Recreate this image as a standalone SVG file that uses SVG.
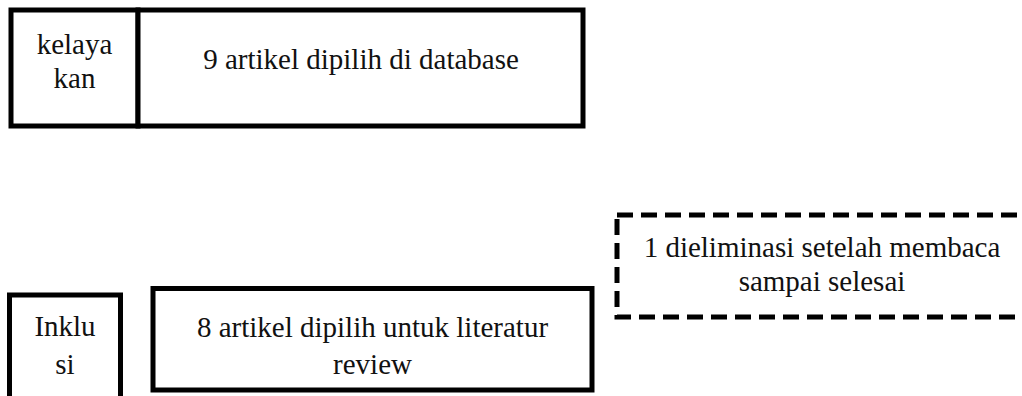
<svg xmlns="http://www.w3.org/2000/svg" width="1022" height="396" viewBox="0 0 1022 396">
<style>
.box{fill:#fff;stroke:#000;stroke-width:5}
.dash{fill:#fff;stroke:#000;stroke-width:5;stroke-dasharray:16 8}
text{font-family:'Liberation Serif','Times New Roman',serif;font-size:29px;fill:#111;text-anchor:middle}
</style>
<rect width="1022" height="396" fill="#fff"/>
<g id="node-kelayakan">
<rect class="box" x="11" y="10" width="127" height="116"/>
<text x="74.5" y="54">kelaya</text>
<text x="74.5" y="88">kan</text>
</g>
<g id="node-9artikel">
<rect class="box" x="138" y="10" width="445" height="116"/>
<text x="361" y="69">9 artikel dipilih di database</text>
</g>
<g id="node-eliminasi">
<rect class="dash" x="617" y="215" width="412" height="102"/>
<text x="822" y="257">1 dieliminasi setelah membaca</text>
<text x="822" y="291">sampai selesai</text>
</g>
<g id="node-inklusi">
<rect class="box" x="9.5" y="295" width="111" height="110"/>
<text x="65" y="336">Inklu</text>
<text x="65" y="374">si</text>
</g>
<g id="node-8artikel">
<rect class="box" x="153" y="288.5" width="439" height="101.5"/>
<text x="372.5" y="337">8 artikel dipilih untuk literatur</text>
<text x="372.5" y="374">review</text>
</g>
<g id="connectors"></g>
</svg>
